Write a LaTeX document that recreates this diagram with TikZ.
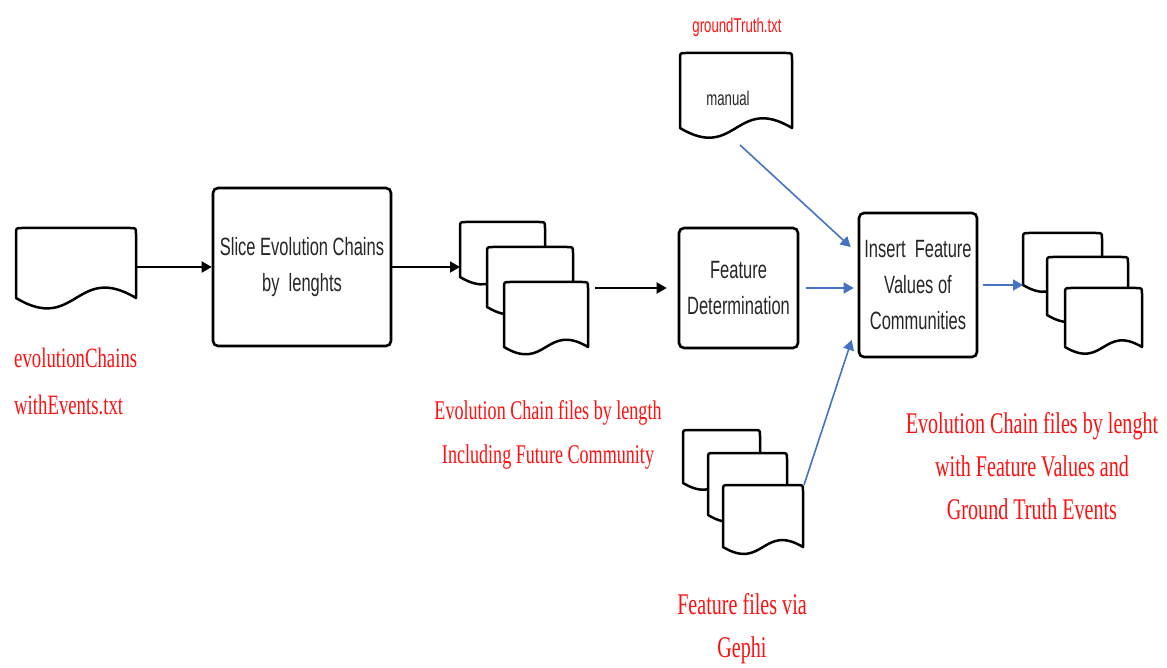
\documentclass[tikz,border=0pt]{standalone}
\usepackage{fontspec}
\usetikzlibrary{arrows.meta,calc}
\newfontfamily\boxfont[FakeStretch=0.66]{Liberation Sans}
\newfontfamily\notefont[FakeStretch=0.67]{Liberation Serif}
\definecolor{linkblue}{RGB}{68,114,196}
\definecolor{notered}{RGB}{255,16,16}

% document symbol: name, left, top, width, height of the straight sides
\newcommand\docshape[5]{%
  \draw[docline] (#2,#3+#5) -- (#2,#3+6) .. controls (#2,#3) .. (#2+6,#3)
    -- (#2+#4-6,#3) .. controls (#2+#4,#3) .. (#2+#4,#3+6)
    -- (#2+#4,#3+#5)
    .. controls (#2+0.5*#4,#3+#5-0.3*#4) and (#2+0.5*#4,#3+#5+0.3*#4) .. (#2,#3+#5)
    -- cycle;
  \node[docarea, minimum width=#4, minimum height=#5] (#1) at (#2+0.5*#4,#3+0.5*#5) {};}

\begin{document}
\begin{tikzpicture}[x=1pt,y=-1pt,
  docline/.style={draw=black, fill=white, line width=2.5pt, line join=round},
  docarea/.style={draw=none, inner sep=0pt, outer sep=0pt},
  procbox/.style={draw=black, line width=2.6pt, rounded corners=5pt, align=center,
    inner sep=2pt, text=black!85, font=\boxfont\fontsize{25}{36}\selectfont},
  blackarrow/.style={draw=black, line width=2pt, -{Triangle[length=10pt,width=11pt]}},
  bluearrow/.style={draw=linkblue, line width=1.6pt, -{Triangle[length=10pt,width=11pt]}},
  note/.style={text=notered, align=center, inner sep=0pt},
]
\useasboundingbox (0,0) rectangle (1167,668);

% input chains file
\docshape{ev}{16}{228}{120}{70}
\node[note, align=left, anchor=west, font=\notefont\fontsize{28}{47}\selectfont]
  (evlabel) at (14,381) {evolutionChains\\withEvents.txt};

% slicing step
\node[procbox, minimum width=178, minimum height=158] (slice) at (302,267)
  {Slice Evolution Chains\\by~~lenghts};

% sliced chain files
\docshape{midA}{460}{222}{85}{55}
\docshape{midB}{487}{247}{86}{60}
\docshape{midC}{504}{282}{84}{65}
\node[note, font=\notefont\fontsize{27}{44}\selectfont] (midlabel) at (548,435)
  {Evolution Chain files by length\\Including Future Community};

% feature determination
\node[procbox, minimum width=119, minimum height=120] (featdet) at (738.5,288)
  {Feature\\Determination};

% ground truth file
\node[note, font=\boxfont\fontsize{20}{24}\selectfont] (gtlabel) at (737,27) {groundTruth.txt};
\docshape{gt}{680}{53}{112}{75}
\node[inner sep=0pt, text=black!85, font=\boxfont\fontsize{20}{24}\selectfont] (gttext) at (728,98) {manual};

% Gephi feature files
\docshape{fA}{683}{430}{77}{53}
\docshape{fB}{708}{453}{79}{62}
\docshape{fC}{723}{485}{80}{62}
\node[note, font=\notefont\fontsize{30}{43}\selectfont] (flabel) at (742,629)
  {Feature files via\\Gephi};

% inserting the feature values
\node[procbox, minimum width=118, minimum height=144] (insert) at (918,285)
  {Insert~~Feature\\Values of\\Communities};

% resulting files
\docshape{rA}{1023}{233}{79}{52}
\docshape{rB}{1047}{257}{81}{58}
\docshape{rC}{1065}{288}{77}{59}
\node[note, font=\notefont\fontsize{30}{43}\selectfont] (rlabel) at (1032,466)
  {Evolution Chain files by lenght\\with Feature Values and\\Ground Truth Events};

% connectors
\draw[blackarrow] (slice.west -| ev.east) -- (slice.west);
\draw[blackarrow] (slice.east) -- (slice.east -| midA.west);
\draw[blackarrow, shorten <=7pt, shorten >=11pt] (featdet.west -| midC.east) -- (featdet.west);
\draw[bluearrow, shorten <=7pt, shorten >=4pt] (featdet.east) -- (featdet.east -| insert.west);
\draw[bluearrow, shorten <=5pt] (insert.east) -- (insert.east -| rA.west);
\draw[bluearrow] ($(gt.south)+(4,17)$) -- ($(insert.west)+(-7,-38)$);
\draw[bluearrow] ($(fC.north east)+(1,0)$) -- ($(insert.west)+(-6,55)$);
\end{tikzpicture}
\end{document}
